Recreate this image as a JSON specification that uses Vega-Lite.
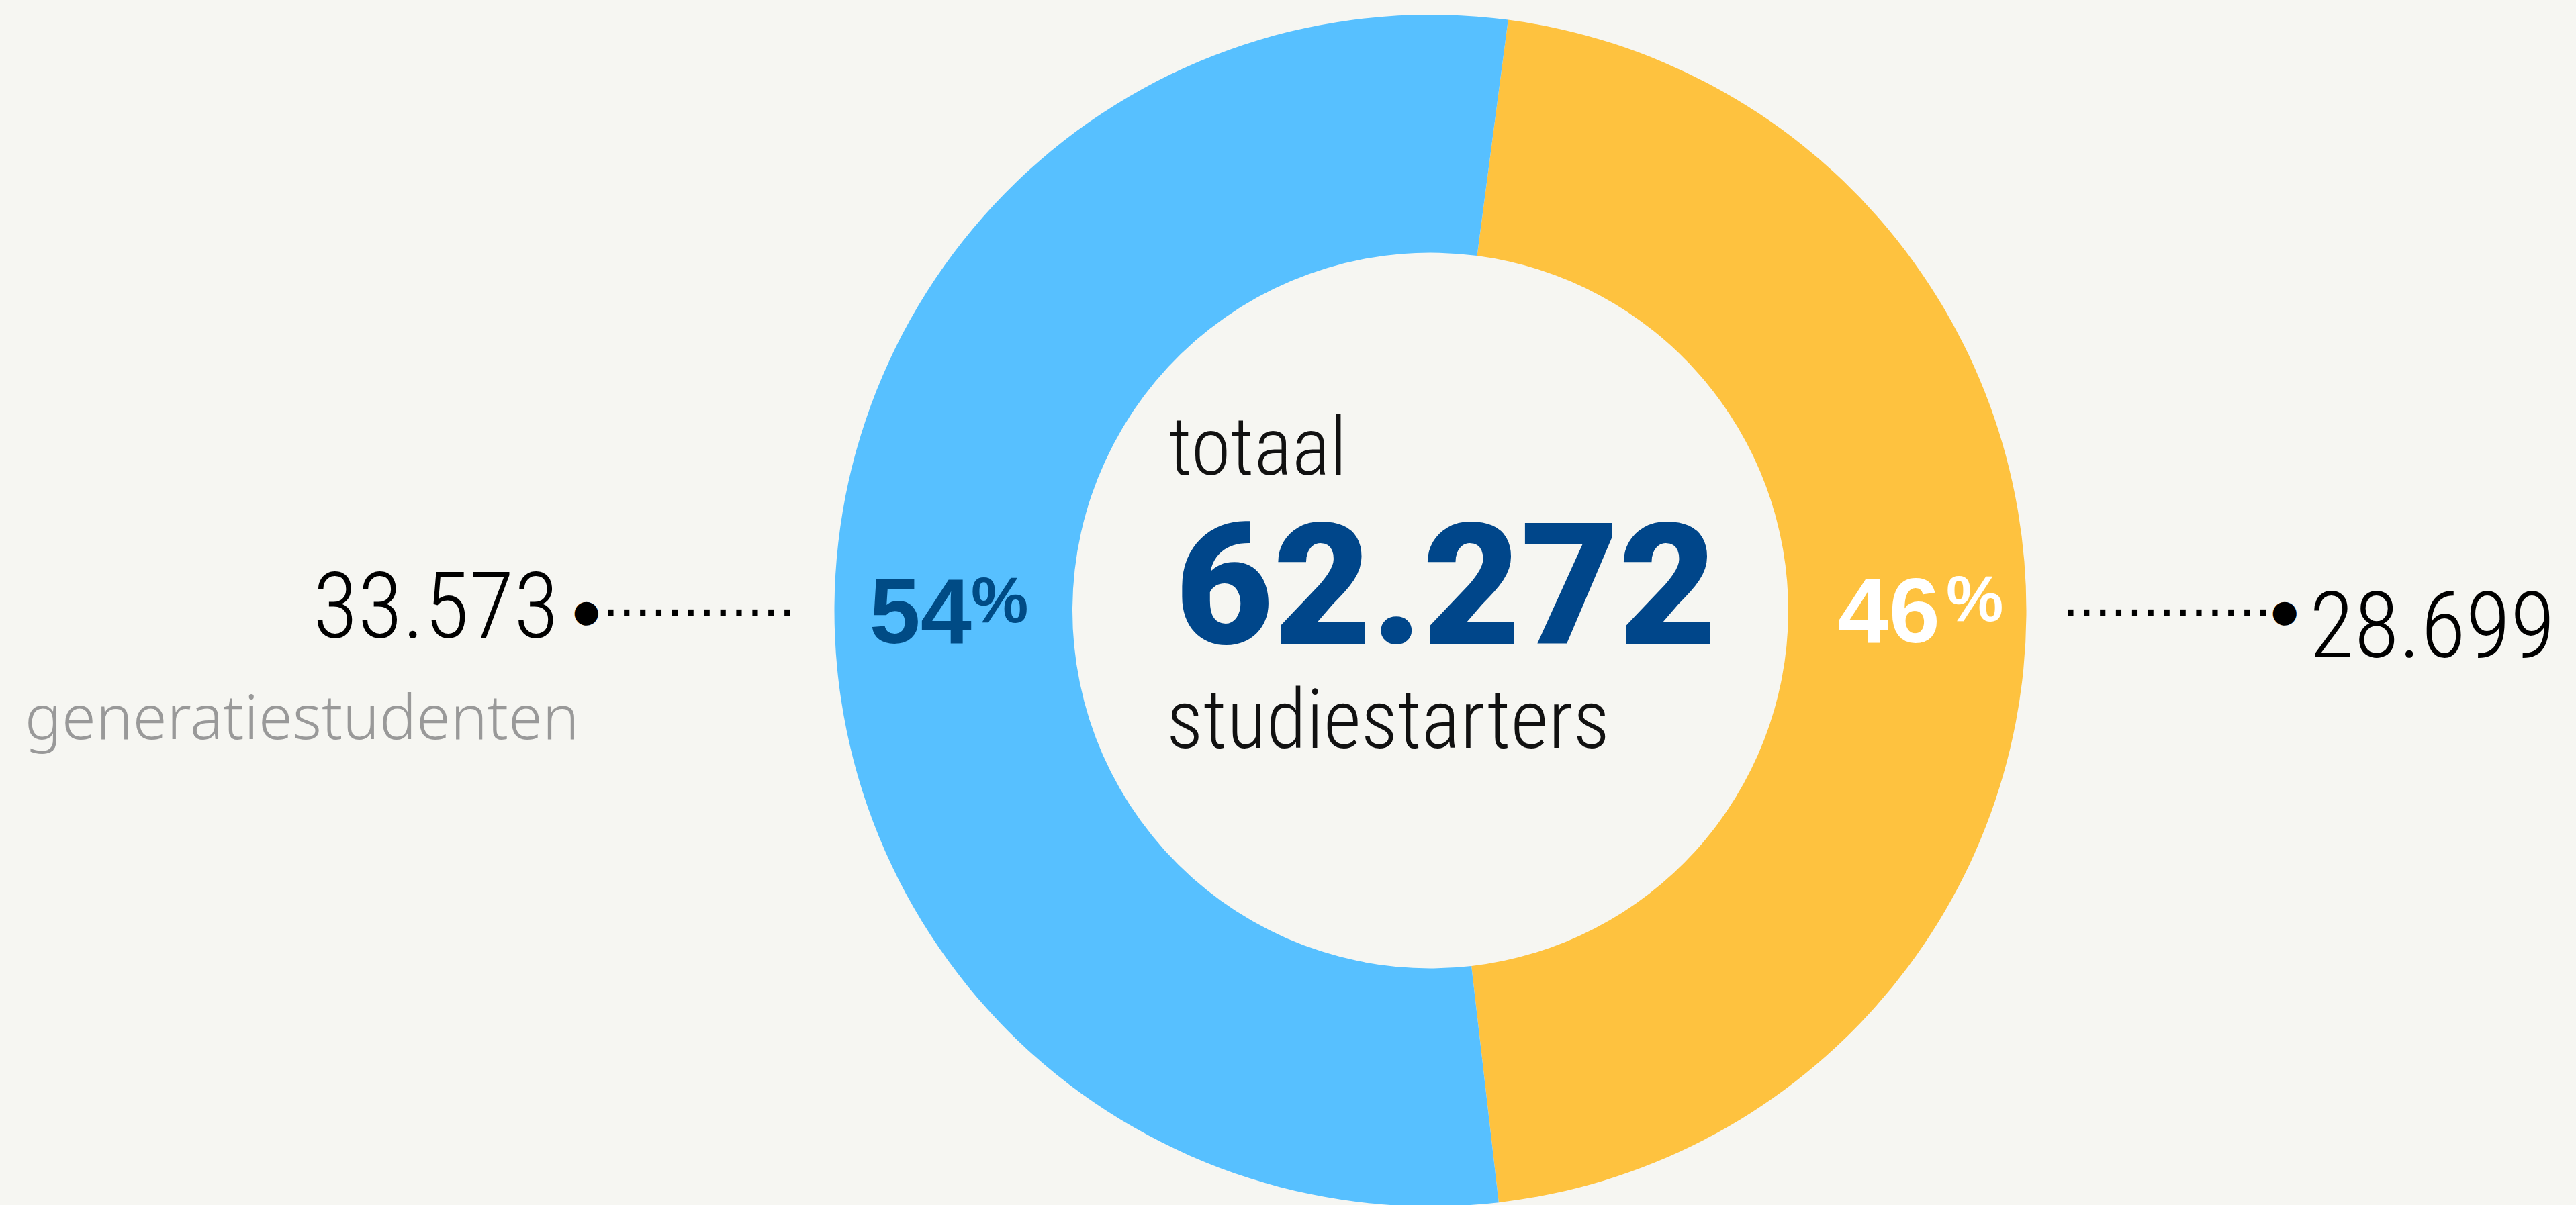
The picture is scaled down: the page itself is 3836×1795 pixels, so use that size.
{
  "$schema": "https://vega.github.io/schema/vega-lite/v6.json",
  "width": 3412,
  "height": 1771,
  "autosize": {"type": "none"},
  "padding": {"left": 424, "top": 24, "right": 0, "bottom": 0},
  "background": "#F6F6F2",
  "config": {
    "view": {"stroke": null},
    "locale": {"number": {"decimal": ",", "thousands": ".", "grouping": [3], "currency": ["€ ", ""]}}
  },
  "data": {
    "values": [
      {"categorie": "niet-generatiestudenten", "aantal": 28699, "pct": 46, "volgorde": 1},
      {"categorie": "generatiestudenten", "aantal": 33573, "pct": 54, "volgorde": 2}
    ]
  },
  "layer": [
    {
      "mark": {"type": "arc", "outerRadius": 887.5, "innerRadius": 533, "stroke": null},
      "encoding": {
        "theta": {"field": "aantal", "type": "quantitative", "stack": true, "scale": {"range": [0.1309, 6.4141]}},
        "order": {"field": "volgorde", "type": "quantitative"},
        "color": {
          "field": "categorie", "type": "nominal",
          "scale": {"domain": ["generatiestudenten", "niet-generatiestudenten"], "range": ["#57C0FF", "#FEC23F"]},
          "legend": null
        }
      }
    },
    {
      "transform": [{"aggregate": [{"op": "sum", "field": "aantal", "as": "totaal"}]}],
      "mark": {"type": "text", "text": "totaal", "align": "left", "baseline": "alphabetic", "dx": -390, "dy": -202.5, "font": "Roboto Condensed, Noto Sans", "fontWeight": 300, "fontSize": 120, "color": "#111111"},
      "encoding": {}
    },
    {
      "transform": [{"aggregate": [{"op": "sum", "field": "aantal", "as": "totaal"}]}],
      "mark": {"type": "text", "align": "left", "baseline": "alphabetic", "dx": -380, "dy": 49.5, "font": "Roboto", "fontWeight": 900, "fontSize": 252, "color": "#00468A"},
      "encoding": {"text": {"field": "totaal", "type": "quantitative", "format": ","}}
    },
    {
      "transform": [{"aggregate": [{"op": "sum", "field": "aantal", "as": "totaal"}]}],
      "mark": {"type": "text", "text": "studiestarters", "align": "left", "baseline": "alphabetic", "dx": -393, "dy": 204.5, "font": "Roboto Condensed, Noto Sans", "fontWeight": 300, "fontSize": 122, "color": "#111111"},
      "encoding": {}
    },
    {
      "transform": [{"filter": "datum.categorie == 'generatiestudenten'"}],
      "mark": {"type": "text", "align": "right", "baseline": "alphabetic", "dx": -683, "dy": 48.5, "font": "Liberation Sans", "fontWeight": "bold", "fontSize": 137, "color": "#004B85"},
      "encoding": {"text": {"field": "pct", "type": "quantitative"}}
    },
    {
      "transform": [{"filter": "datum.categorie == 'generatiestudenten'"}],
      "mark": {"type": "text", "text": "%", "align": "left", "baseline": "alphabetic", "dx": -684, "dy": 17.5, "font": "Liberation Sans", "fontWeight": "bold", "fontSize": 96, "color": "#004B85"},
      "encoding": {}
    },
    {
      "transform": [{"filter": "datum.categorie == 'niet-generatiestudenten'"}],
      "mark": {"type": "text", "align": "right", "baseline": "alphabetic", "dx": 759, "dy": 47.5, "font": "Liberation Sans", "fontWeight": "bold", "fontSize": 137, "color": "#FFFFFF"},
      "encoding": {"text": {"field": "pct", "type": "quantitative"}}
    },
    {
      "transform": [{"filter": "datum.categorie == 'niet-generatiestudenten'"}],
      "mark": {"type": "text", "text": "%", "align": "left", "baseline": "alphabetic", "dx": 768, "dy": 15.5, "font": "Liberation Sans", "fontWeight": "bold", "fontSize": 96, "color": "#FFFFFF"},
      "encoding": {}
    },
    {
      "transform": [{"filter": "datum.categorie == 'generatiestudenten'"}],
      "mark": {"type": "text", "text": "............", "align": "left", "baseline": "alphabetic", "dx": -1232.6, "dy": 7, "font": "Liberation Sans", "fontSize": 86, "color": "#000000"},
      "encoding": {}
    },
    {
      "transform": [{"filter": "datum.categorie == 'niet-generatiestudenten'"}],
      "mark": {"type": "text", "text": ".............", "align": "left", "baseline": "alphabetic", "dx": 941.4, "dy": 7, "font": "Liberation Sans", "fontSize": 86, "color": "#000000"},
      "encoding": {}
    },
    {
      "transform": [{"filter": "datum.categorie == 'generatiestudenten'"}],
      "mark": {"type": "text", "text": "●", "align": "center", "baseline": "alphabetic", "dx": -1257, "dy": 16, "font": "DejaVu Sans", "fontSize": 46, "color": "#000000"},
      "encoding": {}
    },
    {
      "transform": [{"filter": "datum.categorie == 'niet-generatiestudenten'"}],
      "mark": {"type": "text", "text": "●", "align": "center", "baseline": "alphabetic", "dx": 1272, "dy": 16, "font": "DejaVu Sans", "fontSize": 46, "color": "#000000"},
      "encoding": {}
    },
    {
      "transform": [{"filter": "datum.categorie == 'generatiestudenten'"}],
      "mark": {"type": "text", "align": "right", "baseline": "alphabetic", "dx": -1298, "dy": 40.5, "font": "Roboto Condensed, Noto Sans", "fontWeight": 300, "fontSize": 137, "color": "#000000"},
      "encoding": {"text": {"field": "aantal", "type": "quantitative", "format": ","}}
    },
    {
      "transform": [{"filter": "datum.categorie == 'niet-generatiestudenten'"}],
      "mark": {"type": "text", "align": "left", "baseline": "alphabetic", "dx": 1309, "dy": 69.5, "font": "Roboto Condensed, Noto Sans", "fontWeight": 300, "fontSize": 137, "color": "#000000"},
      "encoding": {"text": {"field": "aantal", "type": "quantitative", "format": ","}}
    },
    {
      "transform": [{"filter": "datum.categorie == 'generatiestudenten'"}],
      "mark": {"type": "text", "align": "left", "baseline": "alphabetic", "dx": -2093, "dy": 191.5, "font": "Noto Sans", "fontWeight": 300, "fontSize": 92, "color": "#999999"},
      "encoding": {"text": {"field": "categorie", "type": "nominal"}}
    }
  ]
}
